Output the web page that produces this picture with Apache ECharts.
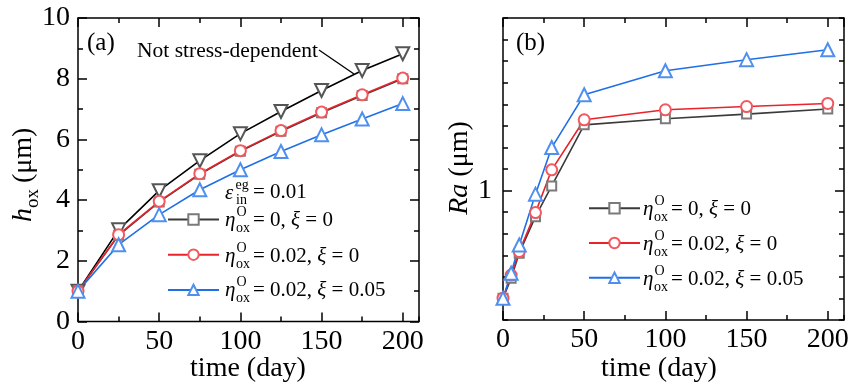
<!DOCTYPE html>
<html><head><meta charset="utf-8">
<script src="https://cdn.jsdelivr.net/npm/echarts@6/dist/echarts.min.js"></script>
<style>html,body{margin:0;padding:0;background:#fff}#c{width:850px;height:391px}</style>
</head><body><div id="c"></div>
<script>
// ---------- data ----------
const timeA = [0, 25, 50, 75, 100, 125, 150, 175, 200];
const hoxNotStress = [1.0, 3.02, 4.31, 5.30, 6.19, 6.92, 7.61, 8.27, 8.82];
const hoxEta0 = [1.0, 2.84, 3.94, 4.85, 5.61, 6.27, 6.88, 7.45, 8.00];
const hoxEta002 = [1.0, 2.86, 3.96, 4.87, 5.63, 6.29, 6.90, 7.47, 8.02];
const hoxEta002Xi005 = [1.0, 2.53, 3.52, 4.34, 5.00, 5.60, 6.15, 6.67, 7.18];

const timeB = [0, 5, 10, 20, 30, 50, 100, 150, 200];
const raEta0 = [0.563, 0.626, 0.716, 0.870, 1.025, 1.420, 1.467, 1.504, 1.545];
const raEta002 = [0.563, 0.637, 0.722, 0.889, 1.117, 1.459, 1.539, 1.566, 1.592];
const raEta002Xi005 = [0.563, 0.643, 0.748, 0.981, 1.258, 1.667, 1.895, 2.011, 2.121];

const seriesNames = ['eta0_xi0', 'eta002_xi0', 'eta002_xi005'];
const legendValues = [['0', '0'], ['0.02', '0'], ['0.02', '0.05']];
const raLabelTick = 1;

// ---------- styles ----------
const FONT = "'Liberation Serif','Times New Roman',serif";
const BLACK = '#000';
const COL = {
  ns: { line: '#000000', mark: '#555555' },
  e0: { line: '#3a3a3a', mark: '#7a7a7a' },
  e2: { line: '#e8232b', mark: '#f2585e' },
  xi: { line: '#1f6fe6', mark: '#4f90ef' }
};
const tickStyle = { color: BLACK, width: 1.5 };

function xMajor(grid, pos, labels) {
  return {
    type: 'value', gridIndex: grid, position: pos, min: 0, max: 210, interval: 50,
    axisLine: { show: false, onZero: false },
    axisTick: { show: true, inside: true, length: 9, lineStyle: tickStyle },
    axisLabel: { show: labels, fontSize: 28, fontFamily: FONT, color: BLACK, margin: 6, showMaxLabel: false },
    splitLine: { show: false }
  };
}
function xMinor(grid, pos) {
  return {
    type: 'value', gridIndex: grid, position: pos, min: 0, max: 210, interval: 25,
    axisLine: { show: false, onZero: false },
    axisTick: { show: true, inside: true, length: 5, lineStyle: tickStyle },
    axisLabel: { show: false }, splitLine: { show: false }
  };
}
function yA(pos, labels) {
  return {
    type: 'value', gridIndex: 0, position: pos, min: 0, max: 10, interval: 2,
    axisLine: { show: false, onZero: false },
    axisTick: { show: true, inside: true, length: 9, lineStyle: tickStyle },
    minorTick: { show: true, splitNumber: 2, length: 5, lineStyle: tickStyle },
    axisLabel: { show: labels, fontSize: 28, fontFamily: FONT, color: BLACK, margin: 8 },
    splitLine: { show: false }, minorSplitLine: { show: false }
  };
}
function yBMinor(pos) {
  return {
    type: 'value', gridIndex: 1, position: pos, min: -0.3, max: 0.4, interval: 0.05,
    axisLine: { show: false, onZero: false },
    axisTick: { show: true, inside: true, length: 5, lineStyle: tickStyle },
    axisLabel: { show: false }, splitLine: { show: false }
  };
}
function yBMajor(pos, labels) {
  return {
    type: 'value', gridIndex: 1, position: pos, min: -0.3, max: 0.4, interval: 0.05,
    axisLine: { show: false, onZero: false },
    axisTick: { show: true, inside: true, length: 9, lineStyle: tickStyle, customValues: [Math.log10(raLabelTick)] },
    axisLabel: { show: labels, fontSize: 28, fontFamily: FONT, color: BLACK, margin: 11,
      customValues: [Math.log10(raLabelTick)], formatter: () => String(raLabelTick) },
    splitLine: { show: false }
  };
}

function pairs(xs, ys) { return xs.map((x, i) => [x, ys[i]]); }
function lineSeries(name, xi, yi, data, symbol, size, col, rotate) {
  return {
    name, type: 'line', xAxisIndex: xi, yAxisIndex: yi, data,
    symbol, symbolSize: size, symbolRotate: rotate || 0, showAllSymbol: true,
    lineStyle: { color: col.line, width: 1.6 },
    itemStyle: { color: col.mark, borderColor: col.mark, borderWidth: 1.2 },
    emphasis: { disabled: true }, animation: false, silent: true
  };
}

// ---------- texts ----------
function txt(x, y, s, size, italic, align) {
  return { type: 'text', x, y, silent: true,
    style: { text: s, fontSize: size, fontFamily: FONT, fontStyle: italic ? 'italic' : 'normal',
      fill: BLACK, align: align || 'left', verticalAlign: 'middle' } };
}
function richTxt(x, y, s, size, align) {
  return { type: 'text', x, y, silent: true,
    style: { text: s, align: align || 'left', verticalAlign: 'middle', fill: BLACK,
      rich: { n: { fontSize: size, fontFamily: FONT, fill: BLACK },
              i: { fontSize: size, fontFamily: FONT, fontStyle: 'italic', fill: BLACK } } } };
}
function legendLabels(lx, ys) {
  const out = [];
  ys.forEach((y, k) => {
    const [eta, xi] = legendValues[k];
    out.push(txt(lx, y + 1, 'η', 21, true));
    out.push(txt(lx + 11.5, y - 7, 'O', 14));
    out.push(txt(lx + 11, y + 9, 'ox', 14));
    out.push(richTxt(lx + 28, y + 1, '{n|= ' + eta + ', }{i|ξ}{n| = ' + xi + '}', 21));
  });
  return out;
}

const graphics = [
  txt(87, 43, '(a)', 25),
  txt(516, 43, '(b)', 25),
  txt(137, 51, 'Not stress-dependent', 21.5),
  { type: 'line', silent: true, shape: { x1: 319, y1: 50, x2: 354, y2: 74 }, style: { stroke: BLACK, lineWidth: 1.3 } },
  // epsilon line
  txt(225, 193, 'ε', 21, true),
  txt(235.5, 185, 'eg', 14),
  txt(236, 200, 'in', 14),
  txt(253, 192, '= 0.01', 21),
  // axis titles
  txt(248, 369, 'time (day)', 28, false, 'center'),
  txt(659, 369, 'time (day)', 28, false, 'center'),
  { type: 'group', x: 24, y: 172, rotation: Math.PI / 2, silent: true, children: [
      txt(-50, 0, 'h', 28, true),
      txt(-36, 9, 'ox', 19),
      txt(-11, 0, '(μm)', 28)
  ] },
  { type: 'group', x: 460, y: 168, rotation: Math.PI / 2, silent: true, children: [
      richTxt(0, 0, '{i|Ra}{n| (μm)}', 28, 'center')
  ] }
].concat(legendLabels(225, [219.5, 255, 289.5]), legendLabels(643, [208.3, 243.3, 278.3]));

const chart = echarts.init(document.getElementById('c'), null, { renderer: 'canvas' });
chart.setOption({
  animation: false,
  backgroundColor: '#fff',
  grid: [
    { left: 78, top: 18, width: 341, height: 303.5, show: true, borderColor: BLACK, borderWidth: 1.5, containLabel: false, outerBoundsMode: 'none' },
    { left: 503, top: 18, width: 341, height: 302, show: true, borderColor: BLACK, borderWidth: 1.5, containLabel: false, outerBoundsMode: 'none' }
  ],
  xAxis: [
    xMajor(0, 'bottom', true), xMinor(0, 'bottom'), xMajor(0, 'top', false), xMinor(0, 'top'),
    xMajor(1, 'bottom', true), xMinor(1, 'bottom'), xMajor(1, 'top', false), xMinor(1, 'top')
  ],
  yAxis: [
    yA('left', true), yA('right', false),
    { type: 'log', logBase: 10, gridIndex: 1, position: 'left', min: Math.pow(10, -0.3), max: Math.pow(10, 0.4),
      axisLine: { show: false, onZero: false }, axisTick: { show: false }, axisLabel: { show: false }, splitLine: { show: false } },
    yBMinor('left'), yBMajor('left', true), yBMinor('right'), yBMajor('right', false)
  ],
  legend: [
    { data: seriesNames, orient: 'vertical', left: 167, top: 213, itemWidth: 51, itemHeight: 13, itemGap: 22.5,
      padding: 0, formatter: () => '', textStyle: { fontSize: 1 }, selectedMode: false },
    { data: seriesNames, orient: 'vertical', left: 588, top: 201.8, itemWidth: 51, itemHeight: 13, itemGap: 22,
      padding: 0, formatter: () => '', textStyle: { fontSize: 1 }, selectedMode: false }
  ],
  series: [
    lineSeries('ns', 0, 0, pairs(timeA, hoxNotStress), 'emptyTriangle', 13, COL.ns, 180),
    lineSeries(seriesNames[0], 0, 0, pairs(timeA, hoxEta0), 'emptyRect', 9, COL.e0),
    lineSeries(seriesNames[1], 0, 0, pairs(timeA, hoxEta002), 'emptyCircle', 11, COL.e2),
    lineSeries(seriesNames[2], 0, 0, pairs(timeA, hoxEta002Xi005), 'emptyTriangle', 13, COL.xi),
    lineSeries(seriesNames[0], 4, 2, pairs(timeB, raEta0), 'emptyRect', 9, COL.e0),
    lineSeries(seriesNames[1], 4, 2, pairs(timeB, raEta002), 'emptyCircle', 11, COL.e2),
    lineSeries(seriesNames[2], 4, 2, pairs(timeB, raEta002Xi005), 'emptyTriangle', 13, COL.xi)
  ],
  graphic: graphics
});
</script></body></html>
